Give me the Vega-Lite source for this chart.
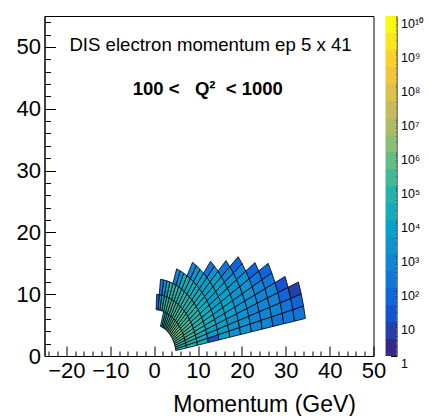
{
"$schema": "https://vega.github.io/schema/vega-lite/v6.json",
"padding": {"left": 15.5, "top": 15, "right": 0, "bottom": 0},
"background": "white",
"width": 329,
"height": 340,
"config": {
  "view": {"stroke": "black", "strokeWidth": 1},
  "font": "Liberation Sans",
  "axis": {"labelFont": "Liberation Sans", "titleFont": "Liberation Sans", "labelColor": "black", "titleColor": "black", "tickColor": "black", "domainColor": "black", "grid": false, "tickWidth": 1, "domainWidth": 1}
},
"datasets": {
"grid": [
{"g":0,"x":4.92,"y":0.87},{"g":100,"x":4.87,"y":1.15},{"g":200,"x":4.79,"y":1.43},{"g":300,"x":4.70,"y":1.71},{"g":400,"x":4.59,"y":1.98},{"g":500,"x":4.47,"y":2.24},{"g":600,"x":4.33,"y":2.50},{"g":700,"x":4.18,"y":2.75},{"g":800,"x":4.01,"y":2.99},{"g":900,"x":3.83,"y":3.21},{"g":1000,"x":3.64,"y":3.43},{"g":1100,"x":3.43,"y":3.64},{"g":1200,"x":3.21,"y":3.83},{"g":1300,"x":2.99,"y":4.01},{"g":1400,"x":2.75,"y":4.18},{"g":1500,"x":2.50,"y":4.33},{"g":1600,"x":2.24,"y":4.47},{"g":1700,"x":1.98,"y":4.59},{"g":1800,"x":1.71,"y":4.70},{"g":1900,"x":1.43,"y":4.79},
{"g":1,"x":7.39,"y":1.30},{"g":101,"x":7.30,"y":1.73},{"g":201,"x":7.18,"y":2.15},{"g":301,"x":7.05,"y":2.57},{"g":401,"x":6.89,"y":2.97},{"g":501,"x":6.70,"y":3.37},{"g":601,"x":6.50,"y":3.75},{"g":701,"x":6.27,"y":4.12},{"g":801,"x":6.02,"y":4.48},{"g":901,"x":5.75,"y":4.82},{"g":1001,"x":5.46,"y":5.15},{"g":1101,"x":5.15,"y":5.46},{"g":1201,"x":4.82,"y":5.75},{"g":1301,"x":4.48,"y":6.02},{"g":1401,"x":4.12,"y":6.27},{"g":1501,"x":3.75,"y":6.50},{"g":1601,"x":3.37,"y":6.70},{"g":1701,"x":2.97,"y":6.89},{"g":1801,"x":2.57,"y":7.05},{"g":1901,"x":2.15,"y":7.18},{"g":2001,"x":1.73,"y":7.30},{"g":2101,"x":1.30,"y":7.39},{"g":2201,"x":0.87,"y":7.45},{"g":2301,"x":0.44,"y":7.49},
{"g":2,"x":9.85,"y":1.74},{"g":102,"x":9.73,"y":2.31},{"g":202,"x":9.58,"y":2.87},{"g":302,"x":9.40,"y":3.42},{"g":402,"x":9.18,"y":3.96},{"g":502,"x":8.94,"y":4.49},{"g":602,"x":8.66,"y":5.00},{"g":702,"x":8.35,"y":5.50},{"g":802,"x":8.02,"y":5.97},{"g":902,"x":7.66,"y":6.43},{"g":1002,"x":7.27,"y":6.86},{"g":1102,"x":6.86,"y":7.27},{"g":1202,"x":6.43,"y":7.66},{"g":1302,"x":5.97,"y":8.02},{"g":1402,"x":5.50,"y":8.35},{"g":1502,"x":5.00,"y":8.66},{"g":1602,"x":4.49,"y":8.94},{"g":1702,"x":3.96,"y":9.18},{"g":1802,"x":3.42,"y":9.40},{"g":1902,"x":2.87,"y":9.58},{"g":2002,"x":2.31,"y":9.73},{"g":2102,"x":1.74,"y":9.85},{"g":2202,"x":1.16,"y":9.93},{"g":2302,"x":0.58,"y":9.98},
{"g":3,"x":12.31,"y":2.17},{"g":103,"x":12.16,"y":2.88},{"g":203,"x":11.97,"y":3.59},{"g":303,"x":11.75,"y":4.28},{"g":403,"x":11.48,"y":4.95},{"g":503,"x":11.17,"y":5.61},{"g":603,"x":10.83,"y":6.25},{"g":703,"x":10.44,"y":6.87},{"g":803,"x":10.03,"y":7.46},{"g":903,"x":9.58,"y":8.03},{"g":1003,"x":9.09,"y":8.58},{"g":1103,"x":8.58,"y":9.09},{"g":1203,"x":8.03,"y":9.58},{"g":1303,"x":7.46,"y":10.03},{"g":1403,"x":6.87,"y":10.44},{"g":1503,"x":6.25,"y":10.83},{"g":1603,"x":5.61,"y":11.17},{"g":1703,"x":4.95,"y":11.48},{"g":1803,"x":4.28,"y":11.75},{"g":1903,"x":3.59,"y":11.97},{"g":2003,"x":2.88,"y":12.16},{"g":2103,"x":2.17,"y":12.31},{"g":2203,"x":1.45,"y":12.42},
{"g":4,"x":14.77,"y":2.60},{"g":104,"x":14.60,"y":3.46},{"g":204,"x":14.37,"y":4.30},{"g":304,"x":14.10,"y":5.13},{"g":404,"x":13.77,"y":5.94},{"g":504,"x":13.40,"y":6.73},{"g":604,"x":12.99,"y":7.50},{"g":704,"x":12.53,"y":8.24},{"g":804,"x":12.03,"y":8.96},{"g":904,"x":11.49,"y":9.64},{"g":1004,"x":10.91,"y":10.29},{"g":1104,"x":10.29,"y":10.91},{"g":1204,"x":9.64,"y":11.49},{"g":1304,"x":8.96,"y":12.03},{"g":1404,"x":8.24,"y":12.53},{"g":1504,"x":7.50,"y":12.99},{"g":1604,"x":6.73,"y":13.40},{"g":1704,"x":5.94,"y":13.77},{"g":1804,"x":5.13,"y":14.10},
{"g":5,"x":17.23,"y":3.04},{"g":105,"x":17.03,"y":4.04},{"g":205,"x":16.76,"y":5.02},{"g":305,"x":16.44,"y":5.99},{"g":405,"x":16.07,"y":6.93},{"g":505,"x":15.64,"y":7.85},{"g":605,"x":15.16,"y":8.75},{"g":705,"x":14.62,"y":9.62},{"g":805,"x":14.04,"y":10.45},{"g":905,"x":13.41,"y":11.25},{"g":1005,"x":12.73,"y":12.01},{"g":1105,"x":12.01,"y":12.73},{"g":1205,"x":11.25,"y":13.41},{"g":1305,"x":10.45,"y":14.04},{"g":1405,"x":9.62,"y":14.62},{"g":1505,"x":8.75,"y":15.16},
{"g":6,"x":19.70,"y":3.47},{"g":106,"x":19.46,"y":4.61},{"g":206,"x":19.16,"y":5.74},{"g":306,"x":18.79,"y":6.84},{"g":406,"x":18.36,"y":7.92},{"g":506,"x":17.87,"y":8.98},{"g":606,"x":17.32,"y":10.00},{"g":706,"x":16.71,"y":10.99},{"g":806,"x":16.04,"y":11.94},{"g":906,"x":15.32,"y":12.86},{"g":1006,"x":14.55,"y":13.72},{"g":1106,"x":13.72,"y":14.55},{"g":1206,"x":12.86,"y":15.32},
{"g":7,"x":22.16,"y":3.91},{"g":107,"x":21.89,"y":5.19},{"g":207,"x":21.55,"y":6.45},{"g":307,"x":21.14,"y":7.70},{"g":407,"x":20.66,"y":8.91},{"g":507,"x":20.11,"y":10.10},{"g":607,"x":19.49,"y":11.25},{"g":707,"x":18.80,"y":12.36},{"g":807,"x":18.05,"y":13.44},{"g":907,"x":17.24,"y":14.46},{"g":1007,"x":16.37,"y":15.44},
{"g":8,"x":24.62,"y":4.34},{"g":108,"x":24.33,"y":5.77},{"g":208,"x":23.95,"y":7.17},{"g":308,"x":23.49,"y":8.55},{"g":408,"x":22.96,"y":9.90},{"g":508,"x":22.34,"y":11.22},{"g":608,"x":21.65,"y":12.50},{"g":708,"x":20.89,"y":13.74},{"g":808,"x":20.05,"y":14.93},{"g":908,"x":19.15,"y":16.07},
{"g":9,"x":27.08,"y":4.78},{"g":109,"x":26.76,"y":6.34},{"g":209,"x":26.34,"y":7.89},{"g":309,"x":25.84,"y":9.41},{"g":409,"x":25.25,"y":10.89},{"g":509,"x":24.57,"y":12.34},{"g":609,"x":23.82,"y":13.75},{"g":709,"x":22.98,"y":15.11},
{"g":10,"x":29.54,"y":5.21},{"g":110,"x":29.19,"y":6.92},{"g":210,"x":28.74,"y":8.60},{"g":310,"x":28.19,"y":10.26},{"g":410,"x":27.55,"y":11.88},{"g":510,"x":26.81,"y":13.46},{"g":610,"x":25.98,"y":15.00},
{"g":11,"x":32.01,"y":5.64},{"g":111,"x":31.62,"y":7.50},{"g":211,"x":31.13,"y":9.32},{"g":311,"x":30.54,"y":11.12},{"g":411,"x":29.84,"y":12.87},
{"g":12,"x":34.47,"y":6.08},{"g":112,"x":34.06,"y":8.07},{"g":212,"x":33.53,"y":10.04},{"g":312,"x":32.89,"y":11.97}
],
"cells": [
{"c":0,"v":42000,"g":[0,100,101,1]},{"c":100,"v":74000,"g":[100,200,201,101]},{"c":200,"v":74000,"g":[200,300,301,201]},{"c":300,"v":130000,"g":[300,400,401,301]},{"c":400,"v":240000,"g":[400,500,501,401]},{"c":500,"v":420000,"g":[500,600,601,501]},{"c":600,"v":700000,"g":[600,700,701,601]},{"c":700,"v":700000,"g":[700,800,801,701]},{"c":800,"v":700000,"g":[800,900,901,801]},{"c":900,"v":700000,"g":[900,1000,1001,901]},{"c":1000,"v":420000,"g":[1000,1100,1101,1001]},{"c":1100,"v":420000,"g":[1100,1200,1201,1101]},{"c":1200,"v":420000,"g":[1200,1300,1301,1201]},{"c":1300,"v":240000,"g":[1300,1400,1401,1301]},{"c":1400,"v":240000,"g":[1400,1500,1501,1401]},{"c":1500,"v":130000,"g":[1500,1600,1601,1501]},{"c":1600,"v":56000,"g":[1600,1700,1701,1601]},{"c":1700,"v":18000,"g":[1700,1800,1801,1701]},{"c":1800,"v":5000,"g":[1800,1900,1901,1801]},
{"c":1,"v":56000,"g":[1,101,102,2]},{"c":101,"v":74000,"g":[101,201,202,102]},{"c":201,"v":74000,"g":[201,301,302,202]},{"c":301,"v":130000,"g":[301,401,402,302]},{"c":401,"v":130000,"g":[401,501,502,402]},{"c":501,"v":180000,"g":[501,601,602,502]},{"c":601,"v":240000,"g":[601,701,702,602]},{"c":701,"v":240000,"g":[701,801,802,702]},{"c":801,"v":240000,"g":[801,901,902,802]},{"c":901,"v":240000,"g":[901,1001,1002,902]},{"c":1001,"v":240000,"g":[1001,1101,1102,1002]},{"c":1101,"v":240000,"g":[1101,1201,1202,1102]},{"c":1201,"v":180000,"g":[1201,1301,1302,1202]},{"c":1301,"v":180000,"g":[1301,1401,1402,1302]},{"c":1401,"v":180000,"g":[1401,1501,1502,1402]},{"c":1501,"v":130000,"g":[1501,1601,1602,1502]},{"c":1601,"v":130000,"g":[1601,1701,1702,1602]},{"c":1701,"v":110000,"g":[1701,1801,1802,1702]},{"c":1801,"v":105000,"g":[1801,1901,1902,1802]},{"c":1901,"v":48000,"g":[1901,2001,2002,1902]},{"c":2001,"v":15000,"g":[2001,2101,2102,2002]},{"c":2101,"v":1500,"g":[2101,2201,2202,2102]},{"c":2201,"v":45,"g":[2201,2301,2302,2202]},
{"c":2,"v":15000,"g":[2,102,103,3]},{"c":102,"v":22000,"g":[102,202,203,103]},{"c":202,"v":26000,"g":[202,302,303,203]},{"c":302,"v":38000,"g":[302,402,403,303]},{"c":402,"v":45000,"g":[402,502,503,403]},{"c":502,"v":52000,"g":[502,602,603,503]},{"c":602,"v":60000,"g":[602,702,703,603]},{"c":702,"v":66000,"g":[702,802,803,703]},{"c":802,"v":70000,"g":[802,902,903,803]},{"c":902,"v":74000,"g":[902,1002,1003,903]},{"c":1002,"v":76000,"g":[1002,1102,1103,1003]},{"c":1102,"v":76000,"g":[1102,1202,1203,1103]},{"c":1202,"v":72000,"g":[1202,1302,1303,1203]},{"c":1302,"v":68000,"g":[1302,1402,1403,1303]},{"c":1402,"v":62000,"g":[1402,1502,1503,1403]},{"c":1502,"v":55000,"g":[1502,1602,1603,1503]},{"c":1602,"v":48000,"g":[1602,1702,1703,1603]},{"c":1702,"v":42000,"g":[1702,1802,1803,1703]},{"c":1802,"v":35000,"g":[1802,1902,1903,1803]},{"c":1902,"v":6000,"g":[1902,2002,2003,1903]},{"c":2002,"v":1600,"g":[2002,2102,2103,2003]},{"c":2102,"v":150,"g":[2102,2202,2203,2103]},
{"c":3,"v":16,"g":[3,103,104,4]},{"c":103,"v":7000,"g":[103,203,204,104]},{"c":203,"v":9000,"g":[203,303,304,204]},{"c":303,"v":12000,"g":[303,403,404,304]},{"c":403,"v":15000,"g":[403,503,504,404]},{"c":503,"v":18000,"g":[503,603,604,504]},{"c":603,"v":21000,"g":[603,703,704,604]},{"c":703,"v":23000,"g":[703,803,804,704]},{"c":803,"v":25000,"g":[803,903,904,804]},{"c":903,"v":26000,"g":[903,1003,1004,904]},{"c":1003,"v":26000,"g":[1003,1103,1104,1004]},{"c":1103,"v":25000,"g":[1103,1203,1204,1104]},{"c":1203,"v":23000,"g":[1203,1303,1304,1204]},{"c":1303,"v":20000,"g":[1303,1403,1404,1304]},{"c":1403,"v":17000,"g":[1403,1503,1504,1404]},{"c":1503,"v":13000,"g":[1503,1603,1604,1504]},{"c":1603,"v":2500,"g":[1603,1703,1704,1604]},{"c":1703,"v":600,"g":[1703,1803,1804,1704]},
{"c":4,"v":4000,"g":[4,104,105,5]},{"c":104,"v":4800,"g":[104,204,205,105]},{"c":204,"v":5500,"g":[204,304,305,205]},{"c":304,"v":6200,"g":[304,404,405,305]},{"c":404,"v":7000,"g":[404,504,505,405]},{"c":504,"v":7600,"g":[504,604,605,505]},{"c":604,"v":8200,"g":[604,704,705,605]},{"c":704,"v":8600,"g":[704,804,805,705]},{"c":804,"v":8800,"g":[804,904,905,805]},{"c":904,"v":8800,"g":[904,1004,1005,905]},{"c":1004,"v":8400,"g":[1004,1104,1105,1005]},{"c":1104,"v":7800,"g":[1104,1204,1205,1105]},{"c":1204,"v":6500,"g":[1204,1304,1305,1205]},{"c":1304,"v":2600,"g":[1304,1404,1405,1305]},{"c":1404,"v":500,"g":[1404,1504,1505,1405]},
{"c":5,"v":2400,"g":[5,105,106,6]},{"c":105,"v":2800,"g":[105,205,206,106]},{"c":205,"v":3000,"g":[205,305,306,206]},{"c":305,"v":3400,"g":[305,405,406,306]},{"c":405,"v":3800,"g":[405,505,506,406]},{"c":505,"v":4100,"g":[505,605,606,506]},{"c":605,"v":4300,"g":[605,705,706,606]},{"c":705,"v":4400,"g":[705,805,806,706]},{"c":805,"v":4200,"g":[805,905,906,806]},{"c":905,"v":3700,"g":[905,1005,1006,906]},{"c":1005,"v":1900,"g":[1005,1105,1106,1006]},{"c":1105,"v":220,"g":[1105,1205,1206,1106]},
{"c":6,"v":1500,"g":[6,106,107,7]},{"c":106,"v":1800,"g":[106,206,207,107]},{"c":206,"v":2000,"g":[206,306,307,207]},{"c":306,"v":2300,"g":[306,406,407,307]},{"c":406,"v":2500,"g":[406,506,507,407]},{"c":506,"v":2600,"g":[506,606,607,507]},{"c":606,"v":2600,"g":[606,706,707,607]},{"c":706,"v":2400,"g":[706,806,807,707]},{"c":806,"v":800,"g":[806,906,907,807]},{"c":906,"v":150,"g":[906,1006,1007,907]},
{"c":7,"v":700,"g":[7,107,108,8]},{"c":107,"v":850,"g":[107,207,208,108]},{"c":207,"v":950,"g":[207,307,308,208]},{"c":307,"v":1100,"g":[307,407,408,308]},{"c":407,"v":1250,"g":[407,507,508,408]},{"c":507,"v":1350,"g":[507,607,608,508]},{"c":607,"v":1300,"g":[607,707,708,608]},{"c":707,"v":600,"g":[707,807,808,708]},{"c":807,"v":60,"g":[807,907,908,808]},
{"c":8,"v":420,"g":[8,108,109,9]},{"c":108,"v":500,"g":[108,208,209,109]},{"c":208,"v":580,"g":[208,308,309,209]},{"c":308,"v":650,"g":[308,408,409,309]},{"c":408,"v":690,"g":[408,508,509,409]},{"c":508,"v":260,"g":[508,608,609,509]},{"c":608,"v":50,"g":[608,708,709,609]},
{"c":9,"v":250,"g":[9,109,110,10]},{"c":109,"v":330,"g":[109,209,210,110]},{"c":209,"v":380,"g":[209,309,310,210]},{"c":309,"v":400,"g":[309,409,410,310]},{"c":409,"v":200,"g":[409,509,510,410]},{"c":509,"v":45,"g":[509,609,610,510]},
{"c":10,"v":150,"g":[10,110,111,11]},{"c":110,"v":190,"g":[110,210,211,111]},{"c":210,"v":70,"g":[210,310,311,211]},{"c":310,"v":15,"g":[310,410,411,311]},
{"c":11,"v":110,"g":[11,111,112,12]},{"c":111,"v":60,"g":[111,211,212,112]},{"c":211,"v":6,"g":[211,311,312,212]}
],
"bands": [
{"lo":1,"hi":3.1623},{"lo":3.1623,"hi":10},{"lo":10,"hi":31.623},{"lo":31.623,"hi":100},{"lo":100,"hi":316.23},{"lo":316.23,"hi":1000},{"lo":1000,"hi":3162.3},{"lo":3162.3,"hi":10000},{"lo":10000,"hi":31623},{"lo":31623,"hi":100000},{"lo":100000,"hi":316228},{"lo":316228,"hi":1000000},{"lo":1000000,"hi":3162278},{"lo":3162278,"hi":10000000},{"lo":10000000,"hi":31622777},{"lo":31622777,"hi":100000000},{"lo":100000000,"hi":316227766},{"lo":316227766,"hi":1000000000},{"lo":1000000000,"hi":3162277660},{"lo":3162277660,"hi":10000000000}
]
},
"layer": [
  {
    "data": {"name": "cells"},
    "transform": [
      {"flatten": ["g"]},
      {"lookup": "g", "from": {"data": {"name": "grid"}, "key": "g", "fields": ["x", "y"]}}
    ],
    "mark": {"type": "line", "filled": true, "interpolate": "linear-closed", "stroke": "black", "strokeWidth": 0.8, "order": false},
    "encoding": {
      "x": {"field": "x", "type": "quantitative", "scale": {"domain": [-25, 50], "nice": false, "zero": false},
            "axis": {"orient": "bottom", "values": [-20,-10,0,10,20,30,40,50], "ticks": false, "domain": true, "labelFontSize": 22, "labelPadding": 4, "labelFlush": false, "labelOverlap": false,
                     "title": "Momentum (GeV)", "titleFontSize": 23, "titleFontWeight": "normal", "titleAnchor": "end", "titleAlign": "right", "titleBaseline": "alphabetic", "titleX": 311, "titleY": 55}},
      "y": {"field": "y", "type": "quantitative", "scale": {"domain": [0, 55], "nice": false, "zero": false},
            "axis": {"orient": "left", "values": [0,10,20,30,40,50], "ticks": false, "domain": true, "labelFontSize": 22, "labelPadding": 4, "labelFlush": false, "labelOverlap": false, "title": null}},
      "detail": {"field": "c", "type": "nominal"},
      "color": {"field": "v", "type": "quantitative", "legend": null,
                "scale": {"type": "threshold", "domain": [3.1623,10,31.623,100,316.23,1000,3162.3,10000,31623,100000,316228,1000000,3162278,10000000,31622777,100000000,316227766,1000000000,3162277660],
                          "range": ["#352a87","#253fab","#1554d0","#1065db","#1275d8","#1284d5","#0d93d0","#07a2ca","#15abbc","#26b3ac","#41b99a","#66bc87","#8bbf75","#aabd69","#c9bb5c","#dfbf4d","#f2c53d","#fdd02c","#fbe61d","#f9fb0e"]}}
    }
  },
  {
    "data": {"values": [{}]},
    "mark": {"type": "text", "text": "DIS electron momentum ep 5 x 41", "fontSize": 18.6, "font": "Liberation Sans", "align": "center", "baseline": "alphabetic", "color": "black"},
    "encoding": {
      "x": {"datum": 12.84, "type": "quantitative", "axis": {"orient": "bottom", "values": [-20,-10,0,10,20,30,40,50], "labels": false, "domain": false, "ticks": true, "tickSize": -10, "title": null}},
      "y": {"datum": 49.34, "type": "quantitative", "scale": {"domain": [0, 55], "nice": false, "zero": false}, "axis": {"orient": "left", "values": [0,10,20,30,40,50], "labels": false, "domain": false, "ticks": true, "tickSize": -11, "title": null}}
    }
  },
  {
    "data": {"values": [{}]},
    "mark": {"type": "text", "text": "100 <\u00a0\u00a0\u00a0Q²\u00a0\u00a0<\u00a01000", "fontSize": 18.5, "fontWeight": "bold", "font": "Liberation Sans", "align": "center", "baseline": "alphabetic", "color": "black"},
    "encoding": {
      "x": {"datum": 12.23, "type": "quantitative", "axis": {"orient": "bottom", "values": [-24,-22,-18,-16,-14,-12,-8,-6,-4,-2,2,4,6,8,12,14,16,18,22,24,26,28,32,34,36,38,42,44,46,48], "labels": false, "domain": false, "ticks": true, "tickSize": -5, "title": null}},
      "y": {"datum": 42.17, "type": "quantitative", "scale": {"domain": [0, 55], "nice": false, "zero": false}, "axis": {"orient": "left", "values": [2,4,6,8,12,14,16,18,22,24,26,28,32,34,36,38,42,44,46,48,52,54], "labels": false, "domain": false, "ticks": true, "tickSize": -6, "title": null}}
    }
  },
  {
    "data": {"name": "bands"},
    "mark": {"type": "rect"},
    "encoding": {
      "x": {"datum": 52.74, "type": "quantitative", "axis": null},
      "x2": {"datum": 55.25},
      "y": {"field": "lo", "type": "quantitative", "scale": {"type": "log", "domain": [1, 10000000000], "nice": false},
            "axis": {"orient": "right", "offset": 23, "values": [1,10,100,1000,10000,100000,1000000,10000000,100000000,1000000000,10000000000], "ticks": false, "domain": true,
                     "labelFontSize": 12.5, "labelPadding": 4, "labelBaseline": "alphabetic", "labelOffset": 11, "labelFlush": false, "labelOverlap": false, "title": null,
                     "labelExpr": "datum.value < 2 ? '1' : (datum.value < 20 ? '10' : '10' + ['','','²','³','⁴','⁵','⁶','⁷','⁸','⁹','¹⁰'][round(log(datum.value)/LN10)])"}},
      "y2": {"field": "hi"},
      "color": {"field": "lo", "type": "quantitative", "legend": null,
                "scale": {"type": "threshold", "domain": [3.1623,10,31.623,100,316.23,1000,3162.3,10000,31623,100000,316228,1000000,3162278,10000000,31622777,100000000,316227766,1000000000,3162277660],
                          "range": ["#352a87","#253fab","#1554d0","#1065db","#1275d8","#1284d5","#0d93d0","#07a2ca","#15abbc","#26b3ac","#41b99a","#66bc87","#8bbf75","#aabd69","#c9bb5c","#dfbf4d","#f2c53d","#fdd02c","#fbe61d","#f9fb0e"]}}
    }
  },
  {
    "data": {"values": [{}]},
    "mark": {"type": "text", "text": ""},
    "encoding": {
      "x": {"datum": 52.74, "type": "quantitative", "axis": null},
      "y": {"datum": 1, "type": "quantitative", "scale": {"type": "log", "domain": [1, 10000000000], "nice": false},
            "axis": {"orient": "right", "offset": 23, "values": [1,10,100,1000,10000,100000,1000000,10000000,100000000,1000000000,10000000000], "labels": false, "domain": false, "ticks": true, "tickSize": -6, "title": null}}
    }
  },
  {
    "data": {"values": [{}]},
    "mark": {"type": "text", "text": ""},
    "encoding": {
      "x": {"datum": 52.74, "type": "quantitative", "axis": null},
      "y": {"datum": 1, "type": "quantitative", "scale": {"type": "log", "domain": [1, 10000000000], "nice": false},
            "axis": {"orient": "right", "offset": 23, "tickCount": 100, "labels": false, "domain": false, "ticks": true, "tickSize": -3, "title": null}}
    }
  }
],
"resolve": {"scale": {"y": "independent"}, "axis": {"x": "independent", "y": "independent"}}
}
